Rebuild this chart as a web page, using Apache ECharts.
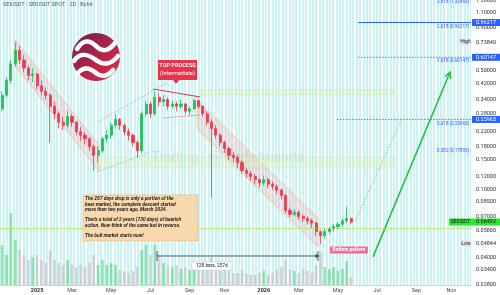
<!DOCTYPE html>
<html>
<head>
<meta charset="utf-8">
<script src="https://cdn.jsdelivr.net/npm/echarts@6/dist/echarts.min.js"></script>
<style>
  html, body { margin: 0; padding: 0; background: #fff; }
  #chart { width: 500px; height: 295px; }
</style>
</head>
<body>
<div id="chart"></div>
<script>
// SEIUSDT weekly candles (log price scale)
const opens  = [0.30,0.36,0.44,0.55,0.66,0.58,0.52,0.47,0.48,0.41,0.38,0.36,0.31,0.28,0.25,0.24,0.27,0.25,0.22,0.21,
                0.20,0.18,0.16,0.17,0.20,0.21,0.24,0.26,0.24,0.22,0.21,0.19,0.17,0.28,0.32,0.28,0.35,0.33,0.34,0.31,
                0.32,0.31,0.32,0.29,0.30,0.335,0.31,0.28,0.25,0.23,0.21,0.19,0.175,0.16,0.155,0.145,0.13,0.125,0.12,0.115,
                0.11,0.115,0.108,0.105,0.10,0.093,0.076,0.072,0.074,0.070,0.068,0.066,0.064,0.057,0.054,0.057,0.059,0.061,0.063,0.066,
                0.068];
const closes = [0.36,0.44,0.55,0.66,0.58,0.52,0.47,0.48,0.41,0.38,0.36,0.31,0.28,0.25,0.24,0.27,0.25,0.22,0.21,0.20,
                0.18,0.16,0.17,0.20,0.21,0.24,0.26,0.24,0.22,0.21,0.19,0.17,0.28,0.32,0.28,0.35,0.33,0.34,0.31,0.32,
                0.31,0.32,0.29,0.30,0.335,0.31,0.28,0.25,0.23,0.21,0.19,0.175,0.16,0.155,0.145,0.13,0.125,0.12,0.115,0.11,
                0.115,0.108,0.105,0.10,0.093,0.076,0.072,0.074,0.070,0.068,0.066,0.064,0.057,0.054,0.057,0.059,0.061,0.063,0.066,0.068,
                0.06492];
const highs  = [0.38,0.46,0.58,0.7384,0.70,0.62,0.54,0.52,0.49,0.44,0.40,0.37,0.33,0.29,0.27,0.29,0.28,0.255,0.235,0.22,
                0.205,0.185,0.18,0.205,0.225,0.25,0.28,0.265,0.245,0.23,0.215,0.195,0.29,0.335,0.33,0.38,0.37,0.36,0.35,0.335,
                0.33,0.34,0.325,0.31,0.345,0.34,0.315,0.29,0.26,0.24,0.215,0.195,0.18,0.168,0.16,0.15,0.135,0.13,0.124,0.118,
                0.122,0.118,0.112,0.108,0.102,0.095,0.079,0.077,0.076,0.072,0.070,0.068,0.065,0.058,0.059,0.061,0.063,0.065,0.068,0.080,
                0.069];
const lows   = [0.29,0.35,0.42,0.53,0.55,0.49,0.44,0.43,0.39,0.36,0.34,0.19,0.26,0.23,0.225,0.23,0.235,0.21,0.195,0.185,
                0.17,0.13,0.145,0.165,0.19,0.20,0.23,0.225,0.21,0.195,0.18,0.155,0.165,0.27,0.265,0.275,0.31,0.31,0.295,0.30,
                0.29,0.30,0.28,0.275,0.295,0.30,0.27,0.24,0.09,0.20,0.18,0.165,0.15,0.145,0.135,0.125,0.118,0.113,0.108,0.104,
                0.106,0.103,0.10,0.095,0.088,0.073,0.069,0.070,0.067,0.065,0.063,0.060,0.054,0.04844,0.052,0.055,0.057,0.059,0.061,0.064,
                0.063];
const volumes = [40,30,72,45,35,30,25,28,30,25,22,35,25,22,20,25,20,18,20,18,
                 22,30,20,25,20,22,20,15,14,12,14,18,35,40,30,40,30,22,20,18,
                 20,16,18,15,20,18,16,18,28,15,14,16,14,12,12,15,12,10,10,12,
                 14,10,12,15,18,25,16,14,12,16,14,12,20,33,18,16,18,14,16,24,
                 8];
const priceTicks = [1.3, 1.1, 0.9, 0.5, 0.42, 0.34, 0.28, 0.22, 0.18, 0.15, 0.12, 0.1, 0.085, 0.07, 0.058, 0.04, 0.034, 0.028];
const lastPrice = 0.06492;
const highPrice = 0.7384;
const lowPrice = 0.04844;
const fibNames  = ['3.618', '2.618', '1.618', '0.618', '0.382'];
const fibPrices = [1.33469, 0.96217, 0.60147, 0.25965, 0.17895];
const monthShort = ['Jan','Feb','Mar','Apr','May','Jun','Jul','Aug','Sep','Oct','Nov','Dec'];

// drawings, as [week index, price]
const channelOne = [[2.94, 0.760], [22.2, 0.184], [22.2, 0.1295], [2.94, 0.535]];
const channelTwo = [[44.67, 0.338], [72.42, 0.0686], [72.42, 0.0464], [44.67, 0.2284]];
const topLine = [[34.58, 0.392], [45.36, 0.352]];
const topBase = [[36.88, 0.265], [45.36, 0.276]];
const wedgeUpper = [[21.97, 0.251], [37.79, 0.425]];
const wedgeLower = [[21.74, 0.1277], [33.9, 0.167]];
const zoneLow = [[21.74, 0.1564], [89.6, 0.1348]];
const zoneHigh = [[45.36, 0.3868], [89.6, 0.3615]];
const projection = [[80.9, 0.065], [91.68, 0.265]];
const bullArrow = [[85.03, 0.0405], [102.7, 0.493]];
const fibStart = [81.6, 81.6, 81.6, 76.8, 81.6];
const rangeLine = [[35.5, 0.041], [72.42, 0.041]];
const rangeLabel = [48.1, 0.0358];
const topProcessTip = [39.86, 0.419];
const noteCorner = [18.53, 0.0936];
const bottomTag = [79.5, 0.0445];

const noteText = [
  'The 257 days drop is only a portion of the',
  'bear market, the complete descent started',
  'more than two years ago, March 2024.',
  '',
  "That's a total of 2 years (730 days) of bearish",
  'action. Now think of the same but in reverse.',
  '',
  'The bull market starts now!'
];

const weekStarts = [];
for (let i = 0; i < 108; i++) weekStarts.push(new Date(Date.UTC(2024, 10, 4 + 7 * i)));
const weekLabels = weekStarts.map(d => d.toISOString().slice(0, 10));
const stripeCats = [];
for (let i = 0; i < 140; i++) stripeCats.push('s' + i);

function tickName(i) {
  const s = weekStarts[i];
  for (let k = 0; k < 7; k++) {
    const d = new Date(s.getTime() + k * 864e5);
    if (d.getUTCDate() === 1 && d.getUTCMonth() % 2 === 0) {
      return d.getUTCMonth() === 0 ? '{y|' + d.getUTCFullYear() + '}' : monthShort[d.getUTCMonth()];
    }
  }
  return '';
}

const UP = '#20c05c', DOWN = '#ec3b52';
const FONT = 'Roboto, "Liberation Sans", sans-serif';

const candles = opens.map((o, i) => [o, closes[i], lows[i], highs[i]]);
const volData = volumes.map((v, i) => ({
  value: v,
  itemStyle: { color: closes[i] >= opens[i] ? 'rgba(70,210,110,0.55)' : 'rgba(200,188,194,0.65)' }
}));

const chart = echarts.init(document.getElementById('chart'));

chart.setOption({
  animation: false,
  backgroundColor: '#ffffff',
  grid: [
    { left: 0, right: 29, top: 0, bottom: 10 },
    { left: 0, right: 29, top: 195, bottom: 10 }
  ],
  xAxis: [
    {
      type: 'category', gridIndex: 0, data: weekLabels, boundaryGap: true,
      axisLine: { lineStyle: { color: '#f2c4cd', width: 1 } },
      axisTick: { show: false },
      splitLine: { show: false },
      axisLabel: {
        interval: (i) => tickName(i) !== '',
        formatter: (v, i) => tickName(i),
        fontSize: 5.5, color: '#4a4e59', margin: 3, fontFamily: FONT,
        rich: { y: { fontSize: 5.5, fontWeight: 'bold', color: '#2a2e39', fontFamily: FONT } }
      }
    },
    {
      type: 'category', gridIndex: 0, data: stripeCats, position: 'top',
      axisLine: { show: false }, axisTick: { show: false }, axisLabel: { show: false },
      splitLine: { show: true, interval: 0, lineStyle: { color: '#cdf2f2', width: 2.2 } }
    },
    { type: 'category', gridIndex: 1, data: weekLabels, show: false }
  ],
  yAxis: [
    { type: 'log', gridIndex: 0, logBase: 10, min: 0.0277, max: 1.305, show: false, splitLine: { show: false } },
    { type: 'value', gridIndex: 1, min: 0, max: 90, show: false, splitLine: { show: false } }
  ],
  series: [
    {
      type: 'bar', xAxisIndex: 2, yAxisIndex: 1, data: volData, barWidth: 2.6, z: 2, silent: true
    },
    {
      type: 'candlestick', xAxisIndex: 0, yAxisIndex: 0, data: candles, barWidth: 2.6, z: 3,
      itemStyle: { color: UP, color0: DOWN, borderColor: UP, borderColor0: DOWN, borderWidth: 0.8 },
      markLine: {
        silent: true, symbol: 'none', label: { show: false },
        lineStyle: { type: 'dotted', color: '#a8d86e', width: 1 },
        data: [{ yAxis: lastPrice }]
      }
    }
  ]
});

function px(idx, price) {
  const i0 = Math.floor(idx), f = idx - i0;
  const a = chart.convertToPixel({ xAxisIndex: 0, yAxisIndex: 0 }, [i0, price]);
  const b = chart.convertToPixel({ xAxisIndex: 0, yAxisIndex: 0 }, [i0 + 1, price]);
  return [a[0] + (b[0] - a[0]) * f, a[1]];
}
function yOf(price) { return px(0, price)[1]; }
function P(pt) { return px(pt[0], pt[1]); }

function line(a, b, color, width, dash, z) {
  return { type: 'line', z: z || 4, silent: true,
    shape: { x1: a[0], y1: a[1], x2: b[0], y2: b[1] },
    style: { stroke: color, lineWidth: width, lineDash: dash || null } };
}
function text(str, x, y, font, fill, align, z) {
  return { type: 'text', z: z || 10, silent: true,
    style: { text: str, x: x, y: y, font: font, fill: fill,
      align: align || 'center', textAlign: align || 'center',
      verticalAlign: 'middle', textVerticalAlign: 'middle' } };
}
function rect(x, y, w, h, fill, stroke, z) {
  return { type: 'rect', z: z || 9, silent: true,
    shape: { x: x, y: y, width: w, height: h },
    style: { fill: fill, stroke: stroke || null, lineWidth: stroke ? 0.6 : 0 } };
}
function arrowHead(a, b, size, color, z) {
  const ang = Math.atan2(b[1] - a[1], b[0] - a[0]);
  const l = [b[0] - size * Math.cos(ang - 0.45), b[1] - size * Math.sin(ang - 0.45)];
  const r = [b[0] - size * Math.cos(ang + 0.45), b[1] - size * Math.sin(ang + 0.45)];
  return { type: 'polyline', z: z || 4, silent: true,
    shape: { points: [l, b, r] }, style: { stroke: color, lineWidth: 1.4, fill: null } };
}
function curve(x1, y1, c1x, c1y, c2x, c2y, x2, y2) {
  return { type: 'bezierCurve', z: 7, silent: true,
    shape: { x1: x1, y1: y1, cpx1: c1x, cpy1: c1y, cpx2: c2x, cpy2: c2y, x2: x2, y2: y2 },
    style: { stroke: '#ffffff', lineWidth: 4.5, fill: null, lineCap: 'round' } };
}

function buildGraphics() {
  const g = [];
  const tagX = 472, tagW = 28;

  // title + watermark
  g.push(text('SEIUSDT · SEIUSDT SPOT · 2D · Bybit', 3, 4.5, '5.5px ' + FONT, '#5d606b', 'left', 12));
  g.push(text('Trading   @TradeAnanda', 228, 158, '14px ' + FONT, 'rgba(150,150,150,0.2)', 'center', 1));

  // logo
  g.push({ type: 'circle', z: 6, silent: true, shape: { cx: 96, cy: 57, r: 24 },
    style: { fill: new echarts.graphic.LinearGradient(0, 0, 1, 1, [
      { offset: 0, color: '#6f1d4e' }, { offset: 1, color: '#ec2b48' }]) } });
  g.push(curve(77, 49, 83, 39, 90, 40, 96, 46));
  g.push(curve(96, 46, 102, 52, 108, 52, 115, 43));
  g.push(curve(74, 61, 80, 52, 88, 54, 96, 60));
  g.push(curve(96, 60, 104, 66, 112, 64, 118, 56));
  g.push(curve(78, 73, 84, 66, 90, 68, 96, 73));
  g.push(curve(96, 73, 102, 78, 108, 76, 113, 70));

  // channels
  [channelOne, channelTwo].forEach(c => g.push({ type: 'polygon', z: 1, silent: true,
    shape: { points: c.map(P) },
    style: { fill: 'rgba(240,140,155,0.2)', stroke: 'rgba(242,186,120,0.85)', lineWidth: 0.8 } }));

  // zones
  [zoneLow, zoneHigh].forEach(z => {
    const a = P(z[0]), b = P(z[1]);
    g.push({ type: 'rect', z: 1, silent: true,
      shape: { x: a[0], y: a[1], width: b[0] - a[0], height: b[1] - a[1] },
      style: { fill: 'rgba(215,242,170,0.3)', stroke: 'rgba(170,215,100,0.8)', lineWidth: 0.6, lineDash: [1, 1.5] } });
  });

  // trend lines
  g.push(line(P(topLine[0]), P(topLine[1]), '#e8334f', 1));
  g.push(line(P(topBase[0]), P(topBase[1]), 'rgba(236,120,150,0.8)', 0.8));
  g.push(line(P(wedgeUpper[0]), P(wedgeUpper[1]), 'rgba(90,140,230,0.7)', 0.8, [1.5, 1.5]));
  g.push(line(P(wedgeLower[0]), P(wedgeLower[1]), 'rgba(90,140,230,0.7)', 0.8, [1.5, 1.5]));
  g.push(line(P(projection[0]), P(projection[1]), '#7fd45a', 0.9, [1.5, 1.5]));

  // bull arrow
  const ba = P(bullArrow[0]), bb = P(bullArrow[1]);
  g.push(line(ba, bb, '#19c23a', 1.5));
  g.push(arrowHead(ba, bb, 7, '#19c23a'));

  // fib levels
  fibPrices.forEach((p, k) => {
    const y = yOf(p);
    const x0 = px(fibStart[k], p)[0];
    if (k === 1) g.push(line([x0, y], [471, y], '#2962ff', 1));
    if (k === 2 || k === 3) g.push(line([x0, y], [471, y], '#2962ff', 0.8, [1.5, 1.5]));
    g.push(text(fibNames[k] + ' (' + p.toFixed(5) + ')', 469, y + 4, '4.5px ' + FONT, '#2962ff', 'right'));
  });

  // date range measure
  const r0 = P(rangeLine[0]), r1 = P(rangeLine[1]);
  g.push(line(r0, r1, '#434651', 0.9));
  g.push(line([r0[0], r0[1] - 5], [r0[0], r0[1] + 5], '#434651', 0.9));
  g.push(line([r1[0], r1[1] - 5], [r1[0], r1[1] + 5], '#434651', 0.9));
  g.push(arrowHead(r0, r1, 3, '#434651'));
  const rl = P(rangeLabel);
  g.push(rect(rl[0] - 20, rl[1] - 4, 40, 8, '#ffffff', '#c8cad2', 9));
  g.push(text('128 bars, 257d', rl[0], rl[1], '4.8px ' + FONT, '#131722'));

  // TOP PROCESS callout
  const tp = P(topProcessTip);
  g.push({ type: 'polygon', z: 9, silent: true,
    shape: { points: [[tp[0] - 3, tp[1] - 4], [tp[0] + 3, tp[1] - 4], [tp[0], tp[1]]] },
    style: { fill: '#e8334a' } });
  g.push(rect(tp[0] - 18, tp[1] - 24, 39, 20, '#e8334a', null, 9));
  g.push(text('TOP PROCESS', tp[0] + 1.5, tp[1] - 18, 'bold 5.5px ' + FONT, '#ffffff'));
  g.push(text('(Intermediate)', tp[0] + 1.5, tp[1] - 10, '5.5px ' + FONT, '#ffffff'));

  // bottom tag
  const bt = P(bottomTag);
  g.push(rect(bt[0] - 19, bt[1] - 3.5, 38, 7, '#f06b9a', null, 9));
  g.push(text('Bottom pattern', bt[0], bt[1], 'bold 4.8px ' + FONT, '#ffffff'));

  // note box
  const nc = P(noteCorner);
  g.push(rect(nc[0], nc[1], 115, 46, '#f8d9ad', '#e2b57a', 9));
  g.push({ type: 'text', z: 10, silent: true,
    style: { text: noteText.join('\n'), x: nc[0] + 2, y: nc[1] + 1.5,
      font: 'italic bold 4.9px ' + FONT, lineHeight: 5.3, fill: '#1c1c1c',
      align: 'left', textAlign: 'left', verticalAlign: 'top', textVerticalAlign: 'top' } });

  // price scale
  g.push(rect(471, 0, 29, 295, '#ffffff', null, 8));
  priceTicks.forEach(p => g.push(text(p.toFixed(5), 486, yOf(p), '5.5px ' + FONT, '#2a2e39', 'center', 10)));

  const tag = (p, str, fill, color) => {
    const y = yOf(p);
    g.push(rect(tagX, y - 3.5, tagW, 7, fill, null, 11));
    g.push(text(str, tagX + tagW / 2, y, '5.5px ' + FONT, color, 'center', 12));
  };
  tag(fibPrices[1], fibPrices[1].toFixed(5), '#2962ff', '#ffffff');
  tag(fibPrices[2], fibPrices[2].toFixed(5), '#2962ff', '#ffffff');
  tag(fibPrices[3], fibPrices[3].toFixed(5), '#2962ff', '#ffffff');
  tag(highPrice, highPrice.toFixed(5), '#ffffff', '#2a2e39');
  tag(lowPrice, lowPrice.toFixed(5), '#ffffff', '#2a2e39');
  tag(lastPrice, lastPrice.toFixed(5), '#2ee52e', '#131722');

  const side = (p, str, fill, x, w) => {
    const y = yOf(p);
    g.push(rect(x, y - 3.5, w, 7, fill, null, 11));
    g.push(text(str, x + w / 2, y, '5px ' + FONT, '#131722', 'center', 12));
  };
  side(highPrice, 'High', '#e4e6eb', 460, 11);
  side(lowPrice, 'Low', '#e4e6eb', 461, 10);
  side(lastPrice, 'SEIUSDT', '#2ee52e', 449, 23);

  return g;
}

chart.setOption({ graphic: buildGraphics() });
</script>
</body>
</html>
